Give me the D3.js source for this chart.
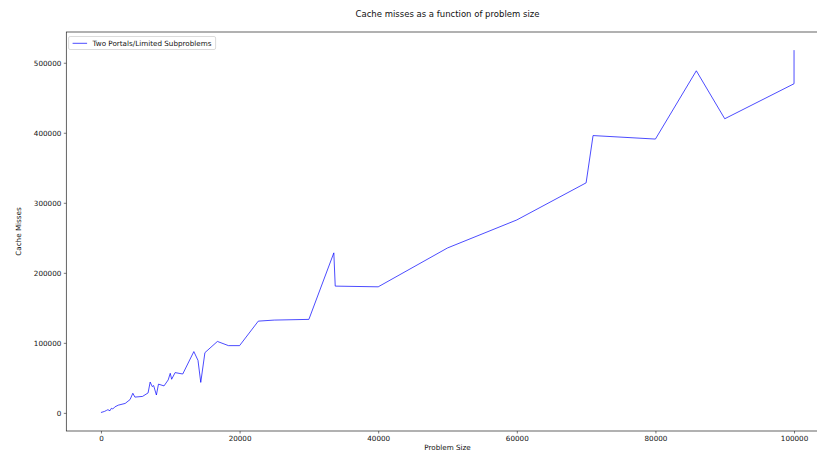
<!DOCTYPE html>
<html>
<head>
<meta charset="utf-8">
<script src="https://cdn.jsdelivr.net/npm/d3@7"></script>
<style>
  html, body { margin: 0; padding: 0; background: #fff; overflow: hidden; }
  svg { display: block; font-family: "DejaVu Sans", sans-serif; }
</style>
</head>
<body>
<svg id="chart" width="817" height="453"></svg>
<script>
// Problem sizes and measured cache misses (Two Portals / Limited Subproblems)
const problemSizes = [
  0, 500, 800, 1000, 1300, 1500, 1700, 2000, 2500, 3500,
  4200, 4600, 4900, 6000, 6800, 7100, 7400, 7600, 8000, 8300,
  9100, 9700, 10000, 10200, 10700, 11800, 13400, 14000, 14400, 15000,
  16800, 18400, 20000, 22700, 25000, 30000, 33600, 33800, 40000, 50000,
  60000, 70000, 71000, 80000, 85900, 90000, 100000, 100000
];
const cacheMisses = [
  500, 2000, 3500, 4500, 3000, 6500, 5500, 8500, 11000, 13500,
  19000, 28000, 22500, 23500, 28500, 44000, 37500, 39000, 25500, 41000,
  38500, 47000, 56500, 48000, 57500, 55500, 87500, 75000, 43500, 86000,
  102000, 96000, 96000, 131000, 132500, 133500, 228500, 181000, 180000, 235500,
  275500, 328500, 396000, 391000, 488500, 420000, 470000, 518000
];
const xTicks = [0, 20000, 40000, 60000, 80000, 100000];
const yTicks = [0, 100000, 200000, 300000, 400000, 500000];
const seriesName = "Two Portals/Limited Subproblems";

const points = problemSizes.map((x, i) => ({ x, y: cacheMisses[i] }));

const svg = d3.select("#chart");
const plot = { left: 66.3, right: 828.7, top: 32, bottom: 431 };

// 5% padding around the data extent on both axes
function padded(ext) {
  const span = ext[1] - ext[0];
  return [ext[0] - span * 0.05, ext[1] + span * 0.05];
}
const x = d3.scaleLinear()
  .domain(padded(d3.extent(problemSizes)))
  .range([plot.left, plot.right]);
const y = d3.scaleLinear()
  .domain(padded([Math.min(0, d3.min(cacheMisses)), d3.max(cacheMisses)]))
  .range([plot.bottom, plot.top]);

const tickFont = 7.2;
const axisColor = "#222";

// Axes
const xAxis = svg.append("g")
  .attr("transform", `translate(0,${plot.bottom})`)
  .call(d3.axisBottom(x).tickValues(xTicks).tickFormat(d3.format("d")).tickSize(2.5).tickPadding(2.5).tickSizeOuter(0));
const yAxis = svg.append("g")
  .attr("transform", `translate(${plot.left},0)`)
  .call(d3.axisLeft(y).tickValues(yTicks).tickFormat(d3.format("d")).tickSize(2.5).tickPadding(2.5).tickSizeOuter(0));
[xAxis, yAxis].forEach(g => {
  g.selectAll(".domain").remove();
  g.selectAll("line").attr("stroke", axisColor).attr("stroke-width", 0.6);
  g.selectAll("text").attr("font-size", tickFont).attr("fill", "#111")
    .attr("font-family", "DejaVu Sans, sans-serif");
});

// Frame around the plotting area
svg.append("rect")
  .attr("x", plot.left).attr("y", plot.top)
  .attr("width", plot.right - plot.left).attr("height", plot.bottom - plot.top)
  .attr("fill", "none").attr("stroke", axisColor).attr("stroke-width", 0.7);

// Series line
const line = d3.line().x(d => x(d.x)).y(d => y(d.y));
svg.append("path")
  .datum(points)
  .attr("d", line)
  .attr("fill", "none")
  .attr("stroke", "#0000ff")
  .attr("stroke-opacity", 0.7)
  .attr("stroke-width", 1)
  .attr("stroke-linejoin", "miter");

// Title and axis labels
svg.append("text")
  .attr("x", (plot.left + plot.right) / 2).attr("y", 17)
  .attr("text-anchor", "middle").attr("font-size", 8.5).attr("fill", "#111")
  .text("Cache misses as a function of problem size");
svg.append("text")
  .attr("x", (plot.left + plot.right) / 2).attr("y", 450)
  .attr("text-anchor", "middle").attr("font-size", tickFont).attr("fill", "#111")
  .text("Problem Size");
svg.append("text")
  .attr("transform", `translate(21,${(plot.top + plot.bottom) / 2}) rotate(-90)`)
  .attr("text-anchor", "middle").attr("font-size", tickFont).attr("fill", "#111")
  .text("Cache Misses");

// Legend
const legend = svg.append("g").attr("transform", `translate(${plot.left + 2.3},${plot.top + 4.5})`);
legend.append("rect")
  .attr("width", 147).attr("height", 13).attr("rx", 1.5)
  .attr("fill", "#fff").attr("fill-opacity", 0.8)
  .attr("stroke", "#ccc").attr("stroke-width", 0.7);
legend.append("line")
  .attr("x1", 4).attr("x2", 18.5).attr("y1", 6.8).attr("y2", 6.8)
  .attr("stroke", "#0000ff").attr("stroke-opacity", 0.7).attr("stroke-width", 1);
legend.append("text")
  .attr("x", 24).attr("y", 9.3)
  .attr("font-size", tickFont).attr("fill", "#111")
  .text(seriesName);
</script>
</body>
</html>
